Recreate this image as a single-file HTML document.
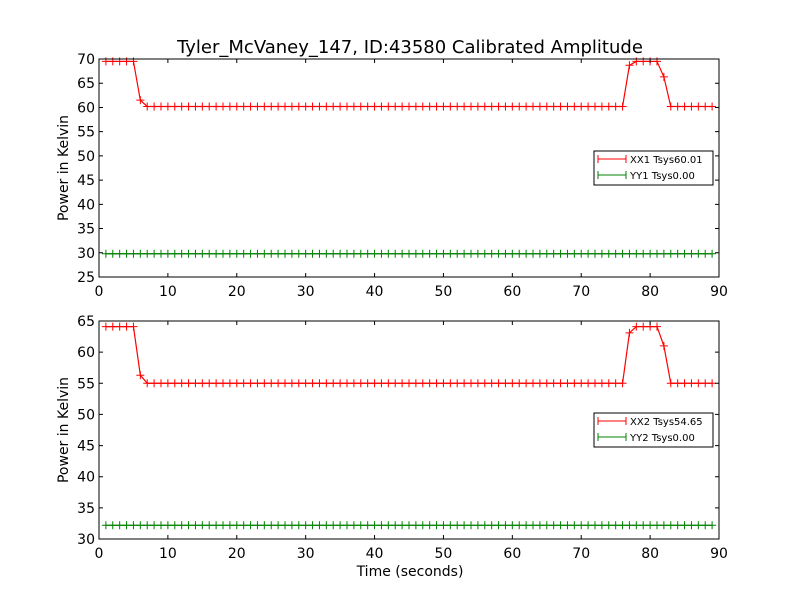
<!DOCTYPE html>
<html><head><meta charset="utf-8"><style>body{margin:0;background:#fff}svg{display:block}text{font-family:"DejaVu Sans","Liberation Sans",sans-serif}</style></head>
<body>
<svg id="c" width="800" height="600"></svg>
<script>
const times=[];for(let t=1;t<=89;t++)times.push(t);
const xx1=[69.5,69.5,69.5,69.5,69.5,61.5].concat(Array(70).fill(60.2)).concat([68.7,69.5,69.5,69.5,69.5,66.3]).concat(Array(7).fill(60.2));
const yy1=Array(89).fill(29.8);
const xx2=[64.1,64.1,64.1,64.1,64.1,56.3].concat(Array(70).fill(55.0)).concat([63.1,64.1,64.1,64.1,64.1,61.0]).concat(Array(7).fill(55.0));
const yy2=Array(89).fill(32.2);
const xTicks=[0,10,20,30,40,50,60,70,80,90];
const y1Ticks=[25,30,35,40,45,50,55,60,65,70];
const y2Ticks=[30,35,40,45,50,55,60,65];
const svg=document.getElementById('c');const NS='http://www.w3.org/2000/svg';
function el(tag,attrs,parent){const e=document.createElementNS(NS,tag);for(const k in attrs)e.setAttribute(k,attrs[k]);(parent||svg).appendChild(e);return e;}
const t=el('text',{x:410,y:53,'text-anchor':'middle','font-size':18});t.textContent='Tyler_McVaney_147, ID:43580 Calibrated Amplitude';

function panel(top,bottom,ymin,ymax,yTicks,s1,s2,l1,l2,name,xlabel){
  const L=99,R=719;const g=el('g',{});
  
  const sx=v=>L+(v-0)/(90-0)*(R-L);const sy=v=>bottom-(v-ymin)/(ymax-ymin)*(bottom-top);
  function series(vals,color,sname){
    const sg=el('g',{},g);
    el('polyline',{points:times.map((x,i)=>sx(x)+','+sy(vals[i])).join(' '),fill:'none',stroke:color,'stroke-width':1.2},sg);
    times.forEach((x,i)=>{const px=sx(x),py=sy(vals[i]);el('path',{d:`M${px-4},${py}h8M${px},${py-4}v8`,stroke:color,'stroke-width':1},sg);});
  }
  series(s1,'#ff0000',l1.split(' ')[0].toLowerCase()+'-series');
  series(s2,'#008000',l2.split(' ')[0].toLowerCase()+'-series');
  el('rect',{x:L,y:top,width:R-L,height:bottom-top,fill:'none',stroke:'#000','stroke-width':1},g);
  xTicks.forEach(v=>{const x=sx(v);el('path',{d:`M${x},${bottom}v-4M${x},${top}v4`,stroke:'#000'},g);
    const tx=el('text',{x:x,y:bottom+19,'text-anchor':'middle','font-size':14},g);tx.textContent=v;
    });
  yTicks.forEach(v=>{const y=sy(v);el('path',{d:`M${L},${y}h4M${R},${y}h-4`,stroke:'#000'},g);
    const ty=el('text',{x:L-4,y:y+5,'text-anchor':'end','font-size':14},g);ty.textContent=v;
    });
  const yl=el('text',{transform:`translate(68,${(top+bottom)/2}) rotate(-90)`,'text-anchor':'middle','font-size':14},g);yl.textContent='Power in Kelvin';
  
  if(xlabel){const xl=el('text',{x:410,y:576,'text-anchor':'middle','font-size':14},g);xl.textContent=xlabel;
    }
  const lg=el('g',{},g);
  const ly=top+92;
  el('rect',{x:594,y:ly,width:119,height:34,fill:'#fff',stroke:'#000'},lg);
  [[l1,'#ff0000'],[l2,'#008000']].forEach((e,i)=>{const yy=ly+8+i*16;
    el('path',{d:`M598,${yy}h28M598,${yy-4}v8M626,${yy-4}v8`,stroke:e[1]},lg);
    const lt=el('text',{x:630,y:yy+4,'font-size':10},lg);lt.textContent=e[0];
    });
}
panel(59,277,25,70,y1Ticks,xx1,yy1,'XX1 Tsys60.01','YY1 Tsys0.00','top-panel',null);
panel(321,539,30,65,y2Ticks,xx2,yy2,'XX2 Tsys54.65','YY2 Tsys0.00','bottom-panel','Time (seconds)');
</script>
</body></html>
